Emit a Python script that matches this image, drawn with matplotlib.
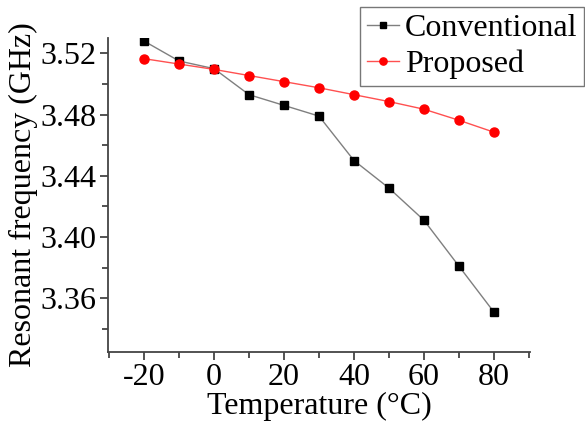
import matplotlib
matplotlib.use("Agg")
import matplotlib.pyplot as plt
from matplotlib.ticker import MultipleLocator

plt.rcParams['font.family'] = ['Liberation Serif', 'DejaVu Serif']
plt.rcParams['axes.unicode_minus'] = False

temperature = [-20, -10, 0, 10, 20, 30, 40, 50, 60, 70, 80]
conventional = [3.528, 3.515, 3.510, 3.493, 3.486, 3.479, 3.450, 3.432, 3.411, 3.381, 3.351]
proposed = [3.5165, 3.513, 3.5095, 3.5055, 3.5015, 3.4975, 3.493, 3.4885, 3.4835, 3.4763, 3.4685]

fig = plt.figure(figsize=(5.85, 4.28), dpi=100)
ax = fig.add_axes([0.1846, 0.1776, 0.7214, 0.7336])

ax.plot(temperature, conventional, color='#7f7f7f', lw=1.0, marker='s',
        ms=5.5, mfc='black', mec='black', label='Conventional')
ax.plot(temperature, proposed, color='#ff5050', lw=1.0, marker='o',
        ms=6.5, mfc='red', mec='red', label='Proposed')

ax.set_xlim(-30.3, 90.3)
ax.set_ylim(3.325, 3.53)
ax.xaxis.set_major_locator(MultipleLocator(20))
ax.xaxis.set_minor_locator(MultipleLocator(10))
ax.yaxis.set_major_locator(MultipleLocator(0.04))
ax.yaxis.set_minor_locator(MultipleLocator(0.02))
ax.yaxis.set_major_formatter(plt.FuncFormatter(lambda v, p: f"{v:.2f}"))

for s in ('top', 'right'):
    ax.spines[s].set_visible(False)
for s in ('left', 'bottom'):
    ax.spines[s].set_color('#444444')
    ax.spines[s].set_linewidth(1.3)

ax.tick_params(which='major', direction='out', length=6, width=1.3,
               color='#444444', labelsize=23, pad=2)
ax.tick_params(which='minor', direction='out', length=4, width=1.3,
               color='#444444')

ax.set_xlabel('Temperature (°C)', fontsize=23, labelpad=0)
ax.set_ylabel('Resonant frequency (GHz)', fontsize=23, labelpad=2)

leg = ax.legend(loc='upper right', bbox_to_anchor=(584 / 585, 1 - 7 / 428),
                bbox_transform=fig.transFigure, fontsize=23, frameon=True,
                fancybox=False, edgecolor='#555555', handlelength=1.0,
                handletextpad=0.2, borderpad=0.2, labelspacing=0.22,
                borderaxespad=0, markerscale=0.8)
leg.get_frame().set_linewidth(1.0)

fig.savefig('out.png', dpi=100)
